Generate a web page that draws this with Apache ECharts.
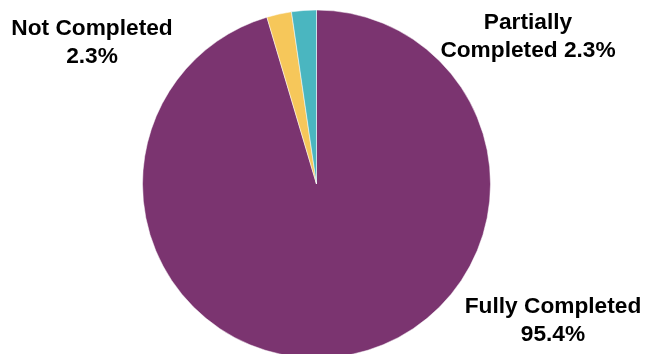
<!DOCTYPE html>
<html><head><meta charset="utf-8">
<script src="https://cdn.jsdelivr.net/npm/echarts@6/dist/echarts.min.js"></script>
<style>html,body{margin:0;padding:0;background:#fff}#c{width:645px;height:354px}</style>
</head><body><div id="c"></div>
<script>
const categories = ['Fully Completed', 'Not Completed', 'Partially Completed'];
const values = [95.4, 2.3, 2.3];
const labelTexts = ['Fully Completed\n95.4%', 'Not Completed\n2.3%', 'Partially\nCompleted 2.3%'];
const colors = ['#7b3470', '#f6c75a', '#4ab6c0'];
const labelSpots = [[553, 321], [92, 43], [528, 37]];

const chart = echarts.init(document.getElementById('c'), null, {renderer: 'canvas'});
chart.setOption({
  animation: false,
  series: [{
    type: 'pie',
    center: [316.5, 184],
    radius: 174,
    startAngle: 90,
    clockwise: true,
    data: categories.map((n, i) => ({name: n, value: values[i], itemStyle: {color: colors[i]}})),
    itemStyle: {borderColor: '#fff', borderWidth: 0.5},
    label: {
      show: true,
      formatter: p => labelTexts[p.dataIndex],
      fontFamily: 'Liberation Sans, Arial, sans-serif',
      fontWeight: 'bold',
      fontSize: 22.7,
      lineHeight: 28,
      color: '#000',
      align: 'center',
      overflow: 'none',
      width: 260
    },
    labelLine: {show: false},
    labelLayout: p => ({x: labelSpots[p.dataIndex][0], y: labelSpots[p.dataIndex][1], align: 'center', verticalAlign: 'middle'})
  }]
});
</script></body></html>
